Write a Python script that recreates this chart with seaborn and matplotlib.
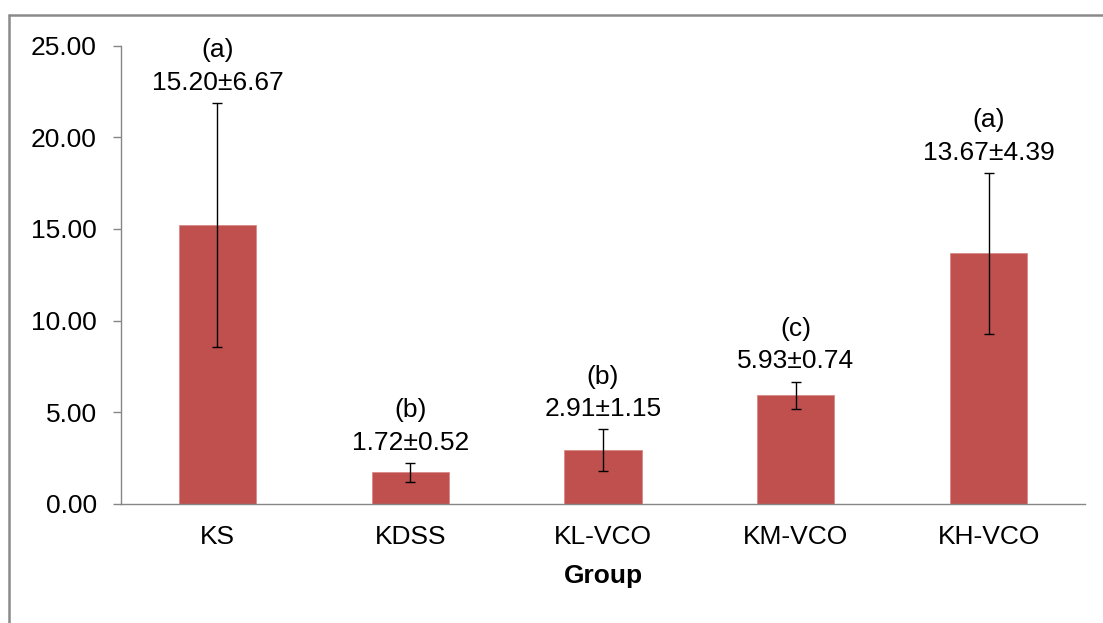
import matplotlib
matplotlib.use("Agg")
import matplotlib.pyplot as plt
from matplotlib.lines import Line2D
from matplotlib.ticker import FixedLocator, FormatStrFormatter
import seaborn as sns
import pandas as pd

groups = ["KS", "KDSS", "KL-VCO", "KM-VCO", "KH-VCO"]
means = [15.20, 1.72, 2.91, 5.93, 13.67]
sds = [6.67, 0.52, 1.15, 0.74, 4.39]
letters = ["(a)", "(b)", "(b)", "(c)", "(a)"]

sns.set_theme(style="white")
plt.rcParams["font.family"] = ["Liberation Sans", "DejaVu Sans"]

FS = 19

df = pd.DataFrame({"Group": groups, "Value": means})

fig = plt.figure(figsize=(11.03, 6.23), dpi=100)
ax = fig.add_axes([0.1097, 0.1915, 0.874, 0.735])

bar_color = "#C0504D"
axis_gray = "#868686"

sns.barplot(data=df, x="Group", y="Value", color=bar_color, width=0.4,
            saturation=1, ax=ax, errorbar=None)
for p in ax.patches:
    p.set_edgecolor("#D98A88")
    p.set_linewidth(0.6)

xpos = list(range(len(groups)))
ax.errorbar(xpos, means, yerr=sds, fmt="none", ecolor="black",
            elinewidth=1.0, capsize=3.3, capthick=1.0, zorder=5)

for x, m, s, lab in zip(xpos, means, sds, letters):
    top = m + s
    ax.annotate(f"{m:.2f}\u00b1{s:.2f}", (x, top), xytext=(0, 14.5),
                textcoords="offset points", ha="center", va="center",
                fontsize=FS, color="black")
    ax.annotate(lab, (x, top), xytext=(0, 38),
                textcoords="offset points", ha="center", va="center",
                fontsize=FS, color="black")

ax.set_ylim(0, 25)
ax.set_xlim(-0.5, len(groups) - 0.5)
ax.yaxis.set_major_locator(FixedLocator([0, 5, 10, 15, 20, 25]))
ax.yaxis.set_major_formatter(FormatStrFormatter("%.2f"))

ax.set_xticks(xpos)
ax.set_xticklabels(groups)
ax.xaxis.set_minor_locator(FixedLocator([i - 0.5 for i in range(len(groups) + 1)]))
ax.tick_params(axis="x", which="major", length=0, pad=15, labelsize=FS, colors="black")
ax.tick_params(axis="x", which="minor", length=6, width=1, color=axis_gray, direction="out")
ax.tick_params(axis="y", which="major", length=5.5, width=1, color=axis_gray,
               direction="out", labelsize=FS, labelcolor="black", pad=12, left=True)

ax.set_xlabel("Group", fontsize=FS, fontweight="bold", labelpad=11, color="black")
ax.set_ylabel("")

for side in ["top", "right"]:
    ax.spines[side].set_visible(False)
for side in ["left", "bottom"]:
    ax.spines[side].set_color(axis_gray)
    ax.spines[side].set_linewidth(1.0)

# Outer chart-area frame (top and left edges)
fig.add_artist(Line2D([0.0085, 0.0085], [0.0, 1 - 14.5 / 623], transform=fig.transFigure,
                      color="#8A8A8A", linewidth=1.8))
fig.add_artist(Line2D([0.0085, 1.0], [1 - 14.5 / 623, 1 - 14.5 / 623], transform=fig.transFigure,
                      color="#8A8A8A", linewidth=1.8))

fig.savefig("out.png", dpi=100)
